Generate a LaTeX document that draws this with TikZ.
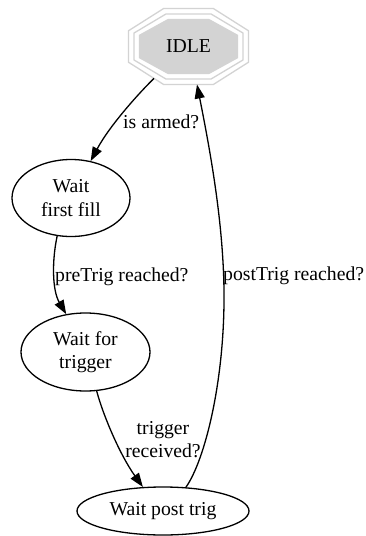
\documentclass[tikz,border=0pt]{standalone}
\usepackage{fontspec}
\setmainfont{Liberation Serif}
\usetikzlibrary{arrows.meta,shapes.geometric}
\definecolor{lgray}{HTML}{D3D3D3}
\newcommand{\fs}{\fontsize{19.7pt}{23.5pt}\selectfont}
\newcommand{\octa}[5]{% cx cy hw hh style
  \path[#5] ({#1-0.4142*#3},{#2-#4}) -- ({#1+0.4142*#3},{#2-#4}) -- ({#1+#3},{#2-0.4142*#4})
   -- ({#1+#3},{#2+0.4142*#4}) -- ({#1+0.4142*#3},{#2+#4}) -- ({#1-0.4142*#3},{#2+#4})
   -- ({#1-#3},{#2+0.4142*#4}) -- ({#1-#3},{#2-0.4142*#4}) -- cycle;}
\tikzset{
  st/.style={ellipse, draw, line width=1.3pt, inner sep=0pt, font=\fs, align=center},
  edge/.style={line width=1.3pt, -{Triangle[length=14pt,width=10pt]}},
  lbl/.style={inner sep=0pt, font=\fs, align=center},
  oct/.style={draw=lgray, line width=1.3pt},
}
\begin{document}
\begin{tikzpicture}[x=1pt,y=-1pt]
\useasboundingbox (0,0) rectangle (366,536);
% IDLE triple octagon
\octa{188.5}{46.5}{60}{38}{oct}
\octa{188.5}{46.5}{54.5}{32.5}{oct}
\octa{188.5}{46.5}{49}{27}{oct, fill=lgray}
\node[lbl, anchor=base] (idle) at (188.5,52) {IDLE};
\coordinate (idleA) at (154,78.4);
\coordinate (idleB) at (197,84.5);
% states
\node[st, minimum width=118pt, minimum height=77pt] (ff) at (71,198) {Wait\\first fill};
\node[st, minimum width=129pt, minimum height=78pt] (wft) at (85.5,352) {Wait for\\trigger};
\node[st, minimum width=172pt, minimum height=48pt] (wpt) at (163,511) {Wait post trig};
% edges
\draw[edge] (idleA) .. controls (140,92) and (110,125) .. (ff.62);
\draw[edge] (ff.250) .. controls (52,260) and (52,290) .. (wft.117);
\draw[edge] (wft.286) .. controls (103,415) and (120,455) .. (wpt.130);
\draw[edge] (wpt.46) .. controls (205,460) and (225,380) .. (224,290)
            .. controls (223,220) and (210,150) .. (idleB);
% labels
\node[lbl, anchor=base west] (l1) at (123,128) {is armed?};
\node[lbl, anchor=base west] (l2) at (55,281) {preTrig reached?};
\node[lbl] (l3) at (163,439.5) {trigger\\received?};
\node[lbl, anchor=base west] (l4) at (223,280) {postTrig reached?};
\end{tikzpicture}
\end{document}
